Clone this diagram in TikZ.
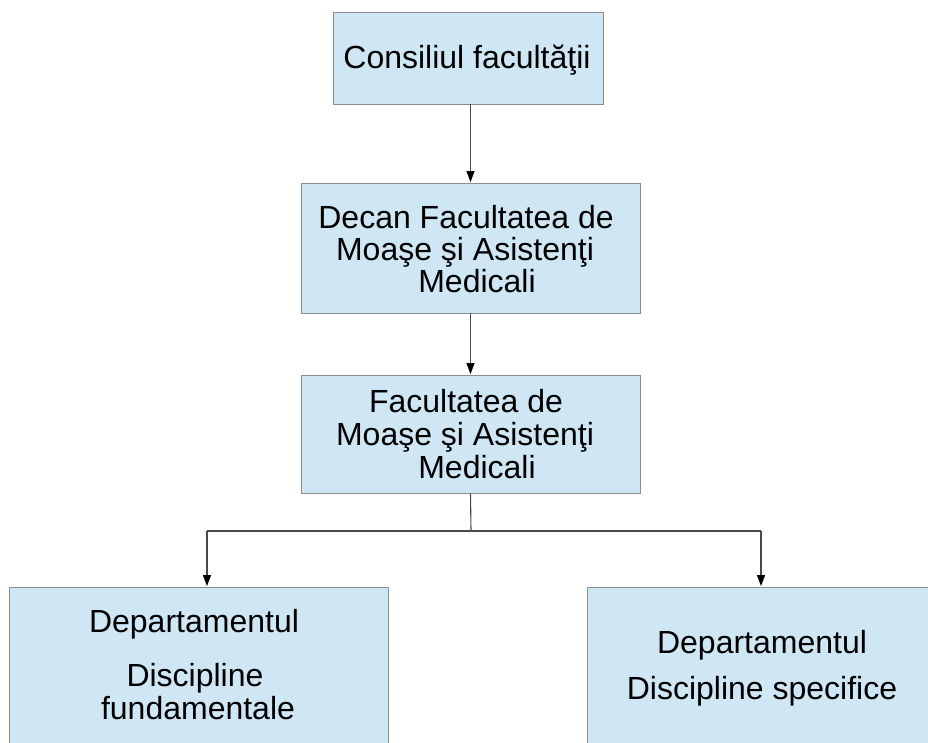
\documentclass[tikz,border=0pt]{standalone}
\usepackage{fontspec}
\setmainfont{Liberation Sans}
\usetikzlibrary{arrows.meta}
\definecolor{boxfill}{HTML}{CFE6F4}
\definecolor{boxline}{HTML}{8C8C8C}
\definecolor{conn}{HTML}{4A4A4A}
\begin{document}
\begin{tikzpicture}[x=1pt,y=-1pt,
  box/.style={draw=boxline, line width=0.9pt, fill=boxfill, rectangle, inner sep=0pt},
  lbl/.style={anchor=base, inner sep=0pt, font=\fontsize{32}{35}\selectfont},
  conline/.style={draw=conn, line width=1.1pt},
  arr/.style={conline, -{Triangle[width=8pt,length=11pt,color=black]}, shorten >=0.5pt}]
\useasboundingbox (0,0) rectangle (928,742);
\clip (0,0) rectangle (928,742);
\fill[white] (0,0) rectangle (928,742);
% boxes
\node[box, minimum width=270, minimum height=92] (b1) at (468,58) {};
\node[box, minimum width=339, minimum height=130] (b2) at (470.5,248) {};
\node[box, minimum width=339, minimum height=118] (b3) at (470.5,434) {};
\node[box, minimum width=379, minimum height=220] (dl) at (198.5,697) {};
\node[box, minimum width=380, minimum height=220] (dr) at (777,697) {};
% texts
\node[lbl] (t1) at (467,68) {Consiliul facultăţii};
\node[lbl] (t2a) at (466,228) {Decan Facultatea de};
\node[lbl] (t2b) at (465,260) {Moaşe şi Asistenţi};
\node[lbl] (t2c) at (477,292) {Medicali};
\node[lbl] (t3a) at (466,412) {Facultatea de};
\node[lbl] (t3b) at (465,445) {Moaşe şi Asistenţi};
\node[lbl] (t3c) at (477,478) {Medicali};
\node[lbl] (tla) at (194,632) {Departamentul};
\node[lbl] (tlb) at (195,686) {Discipline};
\node[lbl] (tlc) at (198,719) {fundamentale};
\node[lbl] (tra) at (762,653) {Departamentul};
\node[lbl] (trb) at (762,699) {Discipline specifice};
% connectors
\coordinate (j) at (471,531);
\coordinate (jl) at (207,531);
\coordinate (jr) at (761,531);
\draw[arr] (b2.north |- b1.south) -- (b2.north);
\draw[arr] (b2.south) -- (b3.north);
\draw[conline] (b3.south) -- (j);
\draw[conline] (jl) -- (jr);
\draw[arr] (jl) -- (jl |- dl.north);
\draw[arr] (jr) -- (jr |- dr.north);
\end{tikzpicture}
\end{document}
